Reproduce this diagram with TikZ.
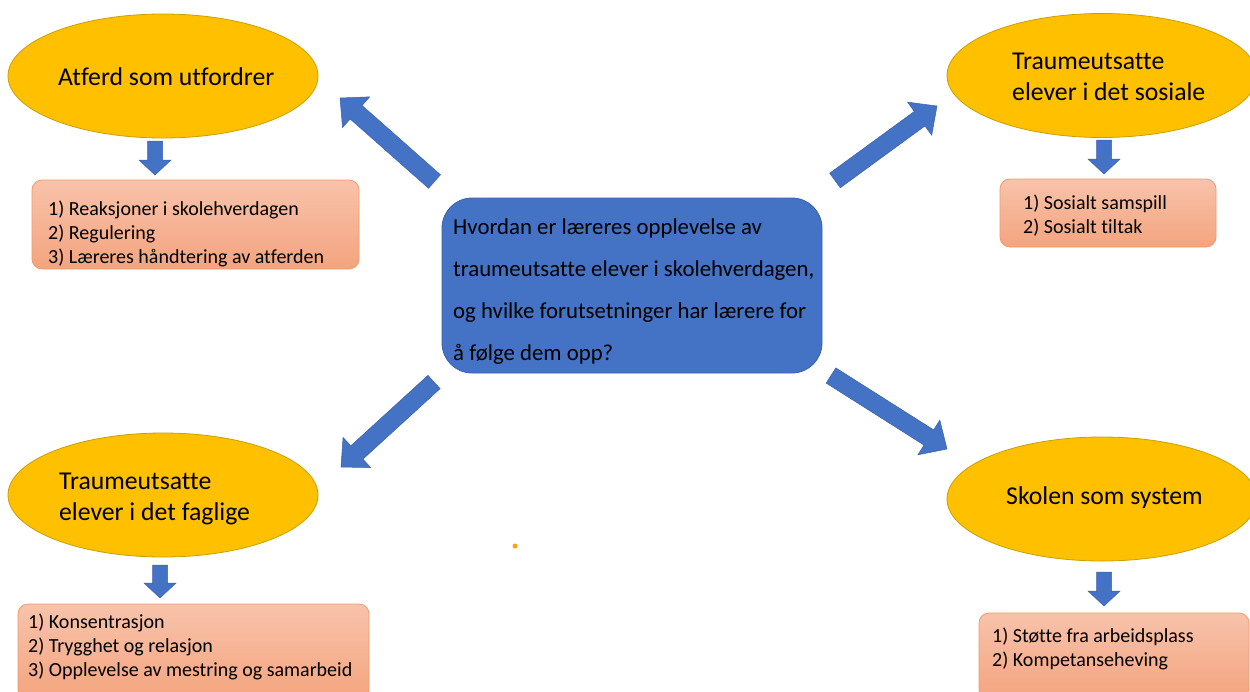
\documentclass[tikz,border=0pt]{standalone}
\usepackage{fontspec}
\setmainfont{Carlito}[Ligatures={NoCommon}]
\usetikzlibrary{shapes.geometric,calc}
\definecolor{gold}{HTML}{FFC000}
\definecolor{goldline}{HTML}{C9A000}
\definecolor{blueA}{HTML}{4472C4}
\definecolor{blueline}{HTML}{3A62AD}
\definecolor{salmontop}{HTML}{F8C3AB}
\definecolor{salmonbot}{HTML}{F4A47E}
\definecolor{salmonline}{HTML}{F29A68}
\definecolor{dotcol}{HTML}{FFA21A}
\newcommand\blockarrow[5]{%
  \coordinate (ba) at ($(#2)!#5!(#1)$);
  \filldraw[barrow] ($(#1)!#3!90:(#2)$) -- ($(ba)!#3!90:(#2)$) -- ($(ba)!#4!90:(#2)$) -- (#2)
    -- ($(ba)!#4!-90:(#2)$) -- ($(ba)!#3!-90:(#2)$) -- ($(#1)!#3!-90:(#2)$) -- cycle;}
\begin{document}
\begin{tikzpicture}[x=1pt,y=-1pt,
  oval/.style={ellipse, fill=gold, draw=goldline, line width=0.8pt, minimum width=310pt, minimum height=124pt, inner sep=0pt},
  etext/.style={anchor=base west, inner sep=0pt, align=left, font=\fontsize{25.7}{31}\selectfont, text=black},
  btext/.style={anchor=base west, inner sep=0pt, align=left, font=\fontsize{20}{24.2}\selectfont, text=black},
  ctext/.style={anchor=base west, inner sep=0pt, align=left, font=\fontsize{22.8}{42}\selectfont, text=black},
  salbox/.style={rounded corners=10pt, top color=salmontop, bottom color=salmonbot, draw=salmonline, line width=0.8pt, inner sep=0pt},
  cbox/.style={rounded corners=30pt, fill=blueA, draw=blueline, line width=0.8pt, inner sep=0pt},
  barrow/.style={fill=blueA, draw=blueline, line width=0.5pt, line join=miter}
]
\clip (0,0) rectangle (1250,691);
\fill[white] (0,0) rectangle (1250,691);

% ellipses
\node[oval] (e1) at (163,76) {};
\node[oval] (e2) at (1102,75.5) {};
\node[oval] (e3) at (163,495) {};
\node[oval] (e4) at (1102,499) {};

% multi-line nodes: base anchor = baseline of the last line
\node[etext] (t1) at (58,85) {Atferd som utfordrer};
\node[etext] (t2) at (1012,100) {Traumeutsatte\\elever i det sosiale};
\node[etext] (t3) at (59,520) {Traumeutsatte\\elever i det faglige};
\node[etext] (t4) at (1006,504) {Skolen som system};

% boxes
\node[salbox, minimum width=327pt, minimum height=89pt] (b1) at (195.5,224.5) {};
\node[salbox, minimum width=216pt, minimum height=68pt] (b2) at (1108,213) {};
\node[salbox, minimum width=351pt, minimum height=96pt] (b3) at (193.5,652) {};
\node[salbox, minimum width=270pt, minimum height=87pt] (b4) at (1114,656.5) {};

\node[btext] (l1) at (48,263.4) {1) Reaksjoner i skolehverdagen\\2) Regulering\\3) Læreres håndtering av atferden};
\node[btext] (l2) at (1023,233.7) {1) Sosialt samspill\\2) Sosialt tiltak};
\node[btext] (l3) at (28,676.9) {1) Konsentrasjon\\2) Trygghet og relasjon\\3) Opplevelse av mestring og samarbeid};
\node[btext] (l4) at (992,666.7) {1) Støtte fra arbeidsplass\\2) Kompetanseheving};

% centre
\node[cbox, minimum width=380pt, minimum height=175pt] (c) at (632,285.5) {};
\node[ctext] (ct) at (453,360) {Hvordan er læreres opplevelse av\\traumeutsatte elever i skolehverdagen,\\og hvilke forutsetninger har lærere for\\å følge dem opp?};

% big arrows
\coordinate (a1s) at (434.5,181.5); \coordinate (a1e) at (340,98);
\coordinate (a2s) at (835,180.5);   \coordinate (a2e) at (937,106);
\coordinate (a3s) at (434,382);     \coordinate (a3e) at (341,467);
\coordinate (a4s) at (831,375.5);   \coordinate (a4e) at (947,449);
\blockarrow{a1s}{a1e}{9pt}{20.5pt}{21.5pt}
\blockarrow{a2s}{a2e}{9pt}{20.5pt}{21.5pt}
\blockarrow{a3s}{a3e}{9pt}{20.5pt}{21.5pt}
\blockarrow{a4s}{a4e}{9pt}{20.5pt}{21.5pt}

% small arrows
\coordinate (s1s) at (155,141);  \coordinate (s1e) at (155,175);
\coordinate (s2s) at (1104,140); \coordinate (s2e) at (1104,174);
\coordinate (s3s) at (160,565);  \coordinate (s3e) at (160,598);
\coordinate (s4s) at (1104,572); \coordinate (s4e) at (1104,606);
\blockarrow{s1s}{s1e}{7.5pt}{16pt}{15pt}
\blockarrow{s2s}{s2e}{7.5pt}{16pt}{15pt}
\blockarrow{s3s}{s3e}{7.5pt}{16pt}{15pt}
\blockarrow{s4s}{s4e}{7.5pt}{16pt}{15pt}

% dot
\node[circle, fill=dotcol, minimum size=5pt, inner sep=0pt] (dot) at (515,546) {};
\end{tikzpicture}
\end{document}
